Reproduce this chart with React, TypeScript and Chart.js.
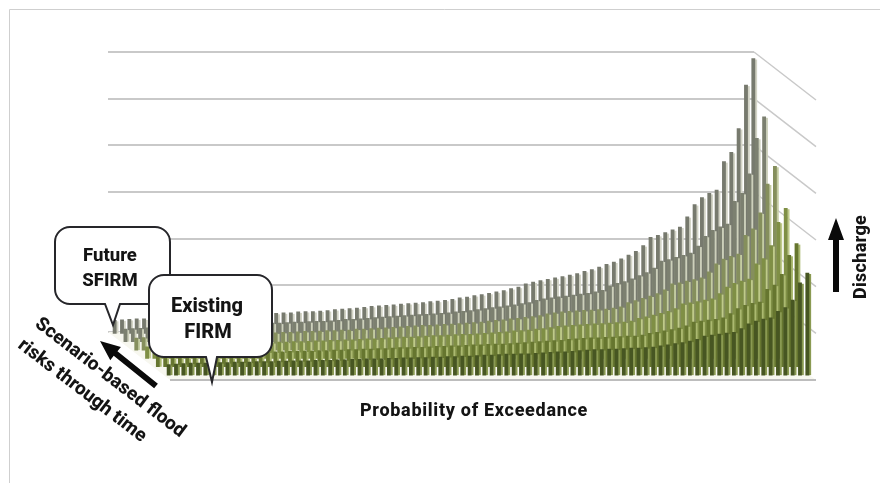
import React, { useEffect, useRef } from "react";
import { Chart, registerables } from "chart.js";

Chart.register(...registerables);

const categories: string[] = Array.from({ length: 88 }, (_, i) => String(i + 1));
const seriesNames = ["Existing FIRM", "Scenario 2", "Scenario 3", "Scenario 4", "Scenario 5", "Future SFIRM"];

const existingFirm = [
  25,26,27,28,28,28,29,29,29,30, 30,30,31,31,31,32,32,33,33,33, 34,34,34,35,35,36,36,37,37,37,
  38,38,39,39,40,40,41,41,42,42, 43,43,44,45,45,46,47,47,48,48, 49,50,51,52,52,53,55,56,57,57,
  58,58,59,60,60,61,62,65,67,70, 72,75,79,86,88,90,92,94,102,112, 118,122,125,139,147,163,200,221,
];
const scenario2 = [
  26,27,28,29,29,29,30,30,31,31, 31,32,32,33,33,34,34,34,35,35, 36,36,37,37,38,38,39,39,40,40,
  41,41,42,43,43,44,44,45,46,46, 47,47,48,49,49,50,51,51,52,53, 54,55,56,57,58,59,61,62,63,64,
  64,65,66,67,68,68,70,74,76,79, 82,85,90,98,100,102,104,107,116,127, 134,138,141,168,177,200,241,266,
];
const scenario3 = [
  27,28,29,30,30,31,31,32,32,32, 33,33,34,34,35,35,36,36,37,37, 38,38,39,40,40,41,41,42,42,43,
  44,44,45,46,47,48,48,49,50,51, 51,52,53,54,54,55,56,57,58,59, 61,62,63,65,66,68,71,72,73,74,
  75,76,77,78,79,80,82,88,91,95, 99,103,109,119,121,124,127,130,141,155, 163,168,172,205,216,244,294,324,
];
const scenario4 = [
  28,29,30,31,31,32,33,33,33,34, 34,35,35,36,36,37,37,38,38,39, 40,40,41,42,42,43,44,44,45,45,
  47,47,48,49,50,51,52,53,54,55, 55,56,57,58,59,60,61,62,64,66, 67,69,70,72,74,76,80,82,84,85,
  86,87,88,89,90,92,95,104,108,113, 118,123,131,144,146,150,153,157,170,187, 197,203,208,248,262,296,358,396,
];
const scenario5 = [
  29,30,31,32,32,33,34,34,35,35, 36,36,37,37,38,38,39,39,40,41, 42,42,43,44,44,45,46,46,47,48,
  50,50,51,52,54,55,56,57,58,59, 60,61,62,63,64,66,67,69,71,73, 75,77,79,81,84,86,91,94,96,98,
  100,102,104,106,109,112,122,127,131,137, 144,150,160,175,178,183,187,192,207,228, 241,248,254,303,320,362,438,484,
];
const futureSfirm = [
  30,31,32,33,33,34,35,35,36,36, 37,38,38,39,39,40,41,41,42,43, 44,44,45,46,46,48,49,49,50,51,
  53,54,55,56,58,60,61,62,63,65, 66,67,68,70,71,73,75,78,80,83, 85,88,91,94,98,101,108,112,115,118,
  121,124,127,130,135,139,144,150,155,162, 170,178,190,208,212,218,224,230,252,278, 293,302,309,370,390,441,534,591,
];
const allSeries = [existingFirm, scenario2, scenario3, scenario4, scenario5, futureSfirm];
const frontColors = ["#475622", "#66762f", "#7f8f45", "#858f5c", "#7c8070", "#777a6e"];
const sideColors = ["#8a9a52", "#abb970", "#bfca8a", "#c4cca2", "#cdd0bb", "#d3d4c6"];

const xTitle = "Probability of Exceedance";
const yTitle = "Discharge";
const depthTitle = ["Scenario-based flood", "risks through time"];
const future = ["Future", "SFIRM"];
const existing = ["Existing", "FIRM"];

const DEPTH_X = 62;
const DEPTH_Y = 48;
const FONT = "Roboto, sans-serif";

function seriesOffset(i: number) {
  const dx = 3 + (5 - i) * 10.8;
  return { dx, dy: dx * (DEPTH_Y / DEPTH_X) };
}

function bubble(ctx: CanvasRenderingContext2D, l: number, t: number, r: number, b: number, rad: number, tipL: number, tipR: number, tipX: number, tipY: number) {
  ctx.beginPath();
  ctx.moveTo(l + rad, t);
  ctx.arcTo(r, t, r, b, rad);
  ctx.arcTo(r, b, l, b, rad);
  ctx.lineTo(tipR, b);
  ctx.lineTo(tipX, tipY);
  ctx.lineTo(tipL, b);
  ctx.arcTo(l, b, l, t, rad);
  ctx.arcTo(l, t, r, t, rad);
  ctx.closePath();
  ctx.fillStyle = "#ffffff";
  ctx.strokeStyle = "#26262a";
  ctx.lineWidth = 2;
  ctx.fill();
  ctx.stroke();
}

function arrow(ctx: CanvasRenderingContext2D, x0: number, y0: number, x1: number, y1: number, w: number, hw: number, hl: number) {
  const a = Math.atan2(y1 - y0, x1 - x0);
  const len = Math.hypot(x1 - x0, y1 - y0);
  ctx.save();
  ctx.translate(x0, y0);
  ctx.rotate(a);
  ctx.fillStyle = "#0a0a0a";
  ctx.beginPath();
  ctx.moveTo(0, -w / 2);
  ctx.lineTo(len - hl, -w / 2);
  ctx.lineTo(len - hl, -hw / 2);
  ctx.lineTo(len, 0);
  ctx.lineTo(len - hl, hw / 2);
  ctx.lineTo(len - hl, w / 2);
  ctx.lineTo(0, w / 2);
  ctx.closePath();
  ctx.fill();
  ctx.restore();
}

function label(ctx: CanvasRenderingContext2D, text: string, x: number, y: number, size: number, rot = 0, spacing = "0px") {
  ctx.save();
  ctx.translate(x, y);
  ctx.rotate(rot);
  ctx.font = `800 ${size}px ${FONT}`;
  (ctx as any).letterSpacing = spacing;
  ctx.fillStyle = "#141414";
  ctx.textAlign = "center";
  ctx.textBaseline = "middle";
  ctx.fillText(text, 0, 0);
  ctx.restore();
}

const depthPlugin = {
  id: "depth",
  beforeDatasetsDraw(chart: any) {
    const { ctx, chartArea: a, scales } = chart;
    ctx.save();
    ctx.strokeStyle = "#c9c9c9";
    ctx.lineWidth = 1.5;
    for (const t of scales.y.ticks) {
      const y = scales.y.getPixelForValue(t.value);
      if (t.value === 0) continue;
      ctx.beginPath();
      ctx.moveTo(a.right, y);
      ctx.lineTo(a.right + DEPTH_X, y + DEPTH_Y);
      ctx.stroke();
    }
    ctx.fillStyle = "#f7f7ef";
    ctx.beginPath();
    ctx.moveTo(a.left, a.bottom);
    ctx.lineTo(a.right, a.bottom);
    ctx.lineTo(a.right + DEPTH_X, a.bottom + DEPTH_Y);
    ctx.lineTo(a.left + DEPTH_X, a.bottom + DEPTH_Y);
    ctx.closePath();
    ctx.fill();
    ctx.strokeStyle = "#bdbdbd";
    ctx.lineWidth = 2;
    ctx.beginPath();
    ctx.moveTo(a.left + DEPTH_X, a.bottom + DEPTH_Y);
    ctx.lineTo(a.right + DEPTH_X, a.bottom + DEPTH_Y);
    ctx.stroke();
    ctx.restore();
  },
  beforeDatasetDraw(chart: any, args: any) {
    const { dx, dy } = seriesOffset(args.index);
    chart.ctx.save();
    chart.ctx.translate(dx, dy);
    const ctx = chart.ctx;
    const side = sideColors[args.index];
    for (const el of args.meta.data) {
      const p = el.getProps(["x", "y", "base", "width"], true);
      ctx.fillStyle = side;
      ctx.fillRect(p.x + p.width / 2, p.y + 1, 2.2, p.base - p.y - 1);
    }
  },
  afterDatasetDraw(chart: any) {
    chart.ctx.restore();
  },
  afterDraw(chart: any) {
    const ctx = chart.ctx;
    bubble(ctx, 55, 227, 170, 304, 15, 105, 120, 113, 325);
    label(ctx, future[0], 110, 256, 18.5);
    label(ctx, future[1], 110, 281, 18.5);
    bubble(ctx, 149, 275, 272, 357, 15, 206, 217, 212, 382);
    label(ctx, existing[0], 207, 307, 20);
    label(ctx, existing[1], 208, 333, 20);
    arrow(ctx, 156, 386, 100, 341, 6, 17, 20);
    arrow(ctx, 836, 292, 836, 218, 6, 16, 22);
    label(ctx, xTitle, 474, 411, 18, 0, "0.7px");
    label(ctx, yTitle, 861, 257, 18, -Math.PI / 2, "0.3px");
    const rot = (37.5 * Math.PI) / 180;
    label(ctx, depthTitle[0], 110, 378, 19, rot);
    label(ctx, depthTitle[1], 82, 391, 19, rot);
    ctx.save();
    ctx.strokeStyle = "#cfcfcf";
    ctx.lineWidth = 1;
    ctx.beginPath();
    ctx.moveTo(9.5, 483);
    ctx.lineTo(9.5, 9.5);
    ctx.lineTo(880, 9.5);
    ctx.stroke();
    ctx.restore();
  },
};

export default function App() {
  const ref = useRef<HTMLCanvasElement>(null);
  useEffect(() => {
    document.body.style.margin = "0";
    const chart = new Chart(ref.current!, {
      type: "bar",
      data: {
        labels: categories,
        datasets: allSeries.map((d, i) => ({
          label: seriesNames[i],
          data: d,
          backgroundColor: frontColors[i],
          barThickness: 3.2,
          grouped: false,
        })),
      },
      options: {
        animation: false,
        responsive: false,
        maintainAspectRatio: false,
        layout: { padding: { left: 108, right: 126, top: 52, bottom: 151 } },
        plugins: { legend: { display: false }, title: { display: false }, tooltip: { enabled: false } },
        scales: {
          x: { display: false },
          y: {
            min: 0,
            max: 600,
            ticks: { display: false, stepSize: 100 },
            border: { display: false },
            grid: { color: "#c9c9c9", lineWidth: 2, drawTicks: false },
          },
        },
      },
      plugins: [depthPlugin],
    });
    return () => chart.destroy();
  }, []);
  return (
    <canvas
      ref={ref}
      width={880}
      height={483}
      style={{ display: "block", width: 880, height: 483, filter: "blur(0.7px)" }}
    />
  );
}
